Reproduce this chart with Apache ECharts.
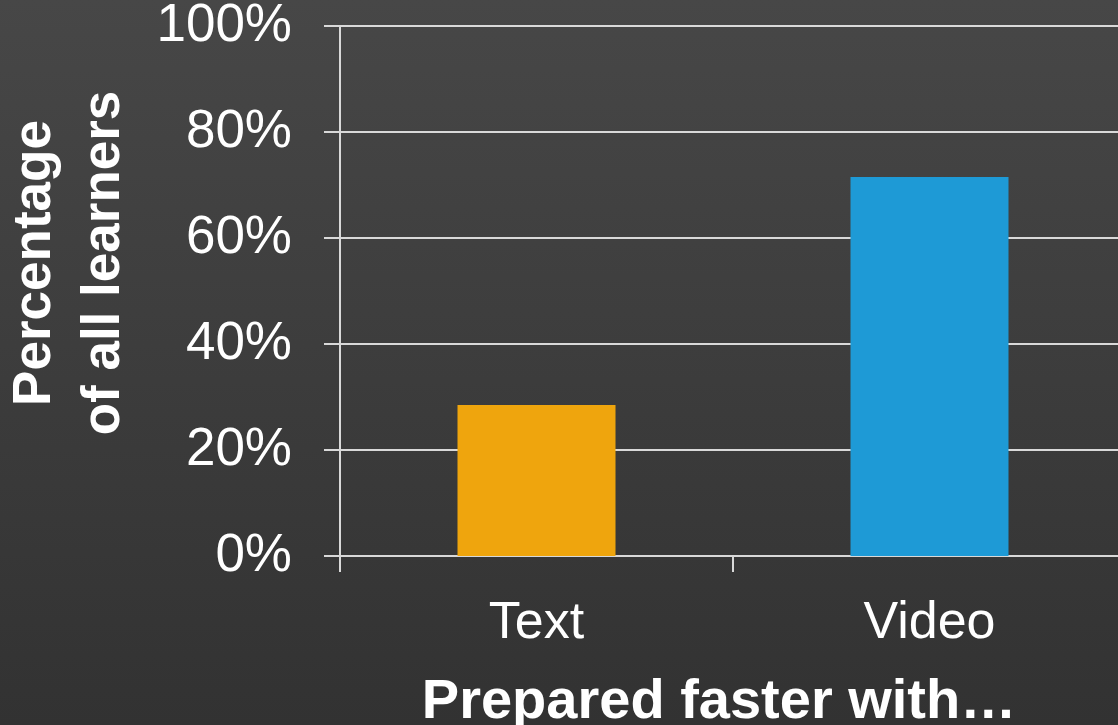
<!DOCTYPE html>
<html>
<head>
<meta charset="utf-8">
<script src="https://cdn.jsdelivr.net/npm/echarts@6/dist/echarts.min.js"></script>
<style>
html,body{margin:0;padding:0;background:#3c3c3c;}
#chart{width:1118px;height:725px;}
</style>
</head>
<body>
<div id="chart"></div>
<script>
const categories = ['Text', 'Video'];
const values = [28.5, 71.5];
const barColors = ['#EFA50D', '#1E9AD6'];
const yTickLabels = ['0%', '20%', '40%', '60%', '80%', '100%'];
const yAxisTitleLines = ['Percentage', 'of all learners'];
const xAxisTitle = 'Prepared faster with\u2026';

const chart = echarts.init(document.getElementById('chart'));
const font = '"Liberation Sans", Arial, sans-serif';
chart.setOption({
  animation: false,
  backgroundColor: {
    type: 'linear', x: 0, y: 0, x2: 0, y2: 1,
    colorStops: [{offset: 0, color: '#474747'}, {offset: 1, color: '#323232'}]
  },
  grid: {left: 340, width: 786, top: 26, bottom: 169, containLabel: false, outerBoundsMode: 'none'},
  xAxis: {
    type: 'category',
    data: categories,
    axisLine: {lineStyle: {color: '#D9D9D9', width: 2}},
    axisTick: {show: true, length: 16, lineStyle: {color: '#D9D9D9', width: 2}},
    axisLabel: {color: '#FFFFFF', fontSize: 52, fontFamily: font, margin: 42}
  },
  yAxis: {
    type: 'value',
    min: 0, max: 100, interval: 20,
    axisLine: {show: true, lineStyle: {color: '#D9D9D9', width: 2}},
    axisTick: {show: true, length: 16, lineStyle: {color: '#D9D9D9', width: 2}},
    splitLine: {show: true, lineStyle: {color: '#D9D9D9', width: 2}},
    axisLabel: {
      color: '#FFFFFF', fontSize: 53, fontFamily: font, margin: 48,
      padding: [20, 0, 0, 0],
      formatter: function (v) { return yTickLabels[Math.round(v / 20)]; }
    }
  },
  series: [{
    type: 'bar',
    barWidth: 158,
    data: values.map((v, i) => ({value: v, itemStyle: {color: barColors[i]}}))
  }],
  graphic: [
    {
      type: 'text', x: 70, y: 263, rotation: Math.PI / 2,
      style: {
        text: yAxisTitleLines.join('\n'),
        fill: '#FFFFFF', font: 'bold 53px ' + font,
        align: 'center', verticalAlign: 'middle', lineHeight: 69
      }
    },
    {
      type: 'text', x: 719, y: 703,
      style: {
        text: xAxisTitle,
        fill: '#FFFFFF', font: 'bold 56px ' + font,
        align: 'center', verticalAlign: 'middle'
      }
    }
  ]
});
</script>
</body>
</html>
